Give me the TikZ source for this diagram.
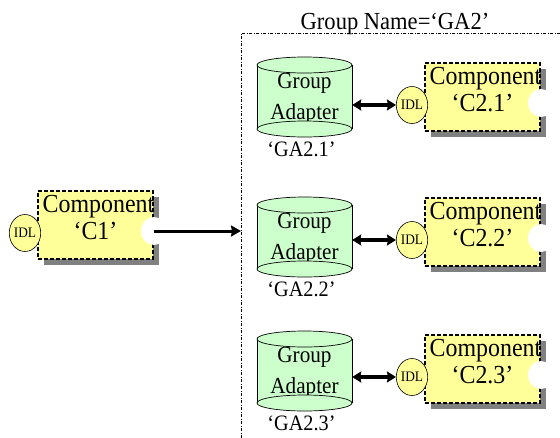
\documentclass[tikz,border=0pt]{standalone}
\usepackage{fontspec}
\usetikzlibrary{shapes.geometric,arrows.meta,shadows}
\newfontfamily\diagfont[FakeStretch=0.92]{Liberation Serif}
\definecolor{compfill}{HTML}{FFFF99}
\definecolor{adfill}{HTML}{CCFFCC}
\definecolor{shadowgray}{HTML}{808080}

\tikzset{
  compbox/.style={draw, fill=compfill, dash pattern=on 4pt off 2pt, line width=1.1pt,
    minimum width=115pt, minimum height=68pt, inner sep=0pt,
    drop shadow={shadow xshift=6pt, shadow yshift=-6pt, fill=shadowgray, opacity=1}},
  idlport/.style={ellipse, draw, fill=compfill, line width=0.6pt, minimum width=27pt,
    minimum height=37pt, inner sep=0pt, font=\diagfont\fontsize{14.5}{14.5}\selectfont},
  outport/.style={ellipse, fill=white, minimum width=26pt, minimum height=28pt, inner sep=0pt},
  comptext/.style={anchor=base, inner sep=0pt, font=\diagfont\fontsize{26}{26}\selectfont},
  adtext/.style={anchor=base, inner sep=0pt, font=\diagfont\fontsize{23}{23}\selectfont},
  adlabel/.style={anchor=base, inner sep=0pt, font=\diagfont\fontsize{22}{22}\selectfont},
  grouptitle/.style={anchor=base, inner sep=0pt, font=\diagfont\fontsize{24.5}{24.5}\selectfont},
  groupframe/.style={draw, line width=0.8pt, dash pattern=on 3pt off 1.5pt on 1pt off 1.5pt,
    minimum width=400pt, minimum height=450pt, inner sep=0pt, anchor=north west},
  adbody/.style={fill=adfill},
  adedge/.style={draw, fill=adfill, line width=0.7pt},
  oneway/.style={line width=3pt, -{Stealth[length=10pt,width=11pt,inset=1pt]}},
  twoway/.style={line width=3.2pt, {Stealth[length=9pt,width=11pt,inset=1pt]}-{Stealth[length=9pt,width=11pt,inset=1pt]}},
}

% component box: #1 name, #2 centre x, #3 y of the IDL port, #4 label
\newcommand\drawcomponent[4]{%
  \node[compbox] (#1) at (#2,#3-8) {};
  \node[comptext] (#1-a) at (#2+3,#3-21) {Component};
  \node[comptext] (#1-b) at (#2,#3+6) {#4};
  \node[outport] (#1-port) at (#2+58.5,#3-2) {};
  \node[idlport] (#1-idl) at (#2-70.5,#3) {IDL};
}

% group adapter drum: #1 name, #2 centre x, #3 y of the top face, #4 label
\newcommand\drawadapter[4]{%
  \fill[adbody] (#2-47.5,#3) rectangle (#2+47.5,#3+64);
  \draw[line width=0.7pt] (#2-47.5,#3) -- (#2-47.5,#3+64) (#2+47.5,#3) -- (#2+47.5,#3+64);
  \node[adtext] (#1-a) at (#2,#3+23) {Group};
  \node[adtext] (#1-b) at (#2,#3+54) {Adapter};
  \path[adedge] (#2,#3+64) ellipse [x radius=47.5pt, y radius=8pt];
  \path[adedge] (#2,#3) ellipse [x radius=47.5pt, y radius=8pt];
  \node[inner sep=0pt, minimum width=95pt, minimum height=80pt] (#1) at (#2,#3+32) {};
  \node[adlabel] (#1-l) at (#2-3,#3+91.5) {#4};
}

\begin{document}
\begin{tikzpicture}[x=1pt, y=-1pt]
  \useasboundingbox (0,0) rectangle (560,437);
  \fill[white] (0,0) rectangle (560,437);
  \clip (0,0) rectangle (560,437);

  % group frame and its title
  \node[groupframe] (grp) at (241,33) {};
  \node[grouptitle] (grptitle) at (395,29) {Group Name=‘GA2’};

  % client component
  \drawcomponent{c1}{95.5}{233}{‘C1’}

  % adapters inside the group
  \drawadapter{ga1}{304.5}{65}{‘GA2.1’}
  \drawadapter{ga2}{304.5}{205}{‘GA2.2’}
  \drawadapter{ga3}{304.5}{339}{‘GA2.3’}

  % member components
  \drawcomponent{c21}{482.5}{105}{‘C2.1’}
  \drawcomponent{c22}{482.5}{240}{‘C2.2’}
  \drawcomponent{c23}{482.5}{377}{‘C2.3’}

  % connectors
  \draw[oneway] (c1-port.center) -- (c1-port.center -| grp.west);
  \draw[twoway] (ga1.east |- c21-idl.west) -- (c21-idl.west);
  \draw[twoway] (ga2.east |- c22-idl.west) -- (c22-idl.west);
  \draw[twoway] (ga3.east |- c23-idl.west) -- (c23-idl.west);
\end{tikzpicture}
\end{document}
